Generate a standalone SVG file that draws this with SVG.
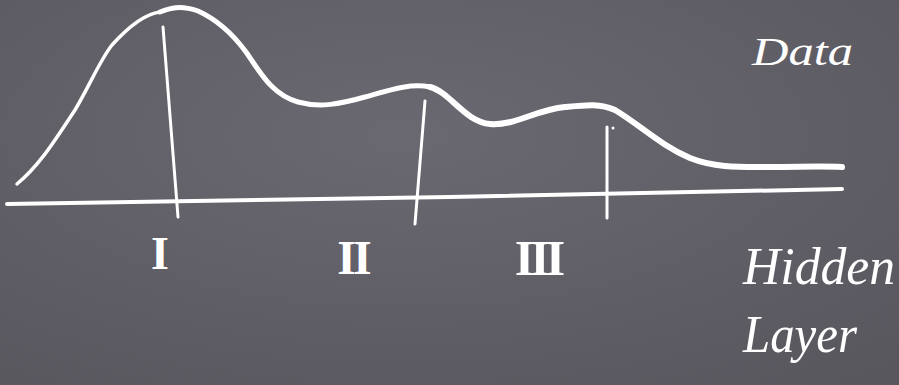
<svg xmlns="http://www.w3.org/2000/svg" width="899" height="385" viewBox="0 0 899 385">
  <defs>
    <radialGradient id="board" cx="0.45" cy="0.35" r="0.8">
      <stop offset="0" stop-color="#6a6870"/>
      <stop offset="1" stop-color="#58575e"/>
    </radialGradient>
  </defs>
  <style>
    .chalk { fill: none; stroke: #ffffff; stroke-linecap: round; stroke-linejoin: round; }
    .num { font-family: "Liberation Serif", "DejaVu Serif", serif; font-weight: bold; fill: #ffffff; text-anchor: middle; }
    .hand { font-family: "Liberation Serif", "DejaVu Serif", serif; font-style: italic; fill: #ffffff; }
  </style>
  <rect width="899" height="385" fill="url(#board)"/>

  <!-- axis -->
  <path class="chalk" d="M7 204 L450 197 L842 189" stroke-width="4"/>

  <!-- data curve -->
  <path class="chalk" stroke-width="3.5" d="M17 184 C40 165 55 140 75 110 C90 85 100 60 112 45 C130 25 145 14 160 12"/>
  <path class="chalk" stroke-width="5" d="M160 12 C170 8 180 5 198 11 C218 20 232 33 246 52 C260 72 272 95 298 102 C320 108 340 104 365 97 C390 90 410 83 430 87"/>
  <path class="chalk" stroke-width="6" d="M430 87 C450 92 465 122 490 124 C515 126 535 110 565 107 C585 105 600 103 615 110 C640 125 660 145 690 158 C715 168 740 167 770 167 C800 167 820 166 842 167"/>

  <!-- vertical markers -->
  <path class="chalk" stroke-width="3" d="M163 27 L178 217"/>
  <path class="chalk" stroke-width="3" d="M425 101 L415 224"/>
  <path class="chalk" stroke-width="3" d="M607 127 L607 218"/>
  <circle cx="613" cy="128" r="1.5" fill="#ffffff"/>

  <!-- numeral labels -->
  <text class="num" x="160" y="269" font-size="46">I</text>
  <text class="num" x="353" y="274" font-size="48" letter-spacing="-3">II</text>
  <text class="num" x="538" y="275" font-size="50" letter-spacing="-4">III</text>

  <!-- handwritten labels -->
  <text class="hand" x="752" y="65" font-size="40" textLength="101" lengthAdjust="spacingAndGlyphs">Data</text>
  <text class="hand" x="743" y="284" font-size="52" textLength="152" lengthAdjust="spacingAndGlyphs">Hidden</text>
  <text class="hand" x="743" y="352" font-size="52" textLength="114" lengthAdjust="spacingAndGlyphs">Layer</text>
</svg>
